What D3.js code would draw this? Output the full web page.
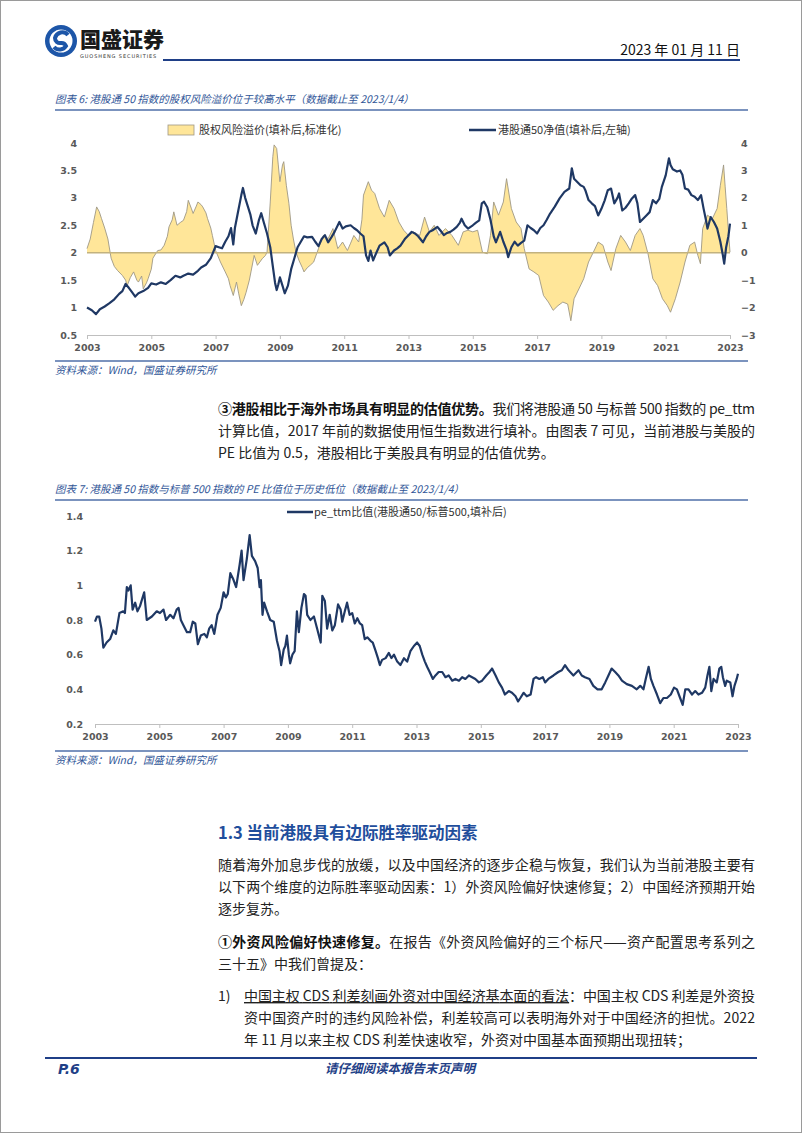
<!DOCTYPE html>
<html><head><meta charset="utf-8">
<script src="https://cdn.jsdelivr.net/npm/d3@7"></script>
<style>
html,body{margin:0;padding:0;background:#fff;}
svg{display:block;font-family:"Noto Sans CJK SC","Noto Sans",sans-serif;}
</style></head>
<body>
<svg id="page" width="802" height="1133"></svg>
<script>
// ---------- data ----------
const yearTicks = [2003,2005,2007,2009,2011,2013,2015,2017,2019,2021,2023];
const leftTicks1 = [0.5,1,1.5,2,2.5,3,3.5,4];
const rightTicks1 = [-3,-2,-1,0,1,2,3,4];
const leftTicks2 = [0.2,0.4,0.6,0.8,1,1.2,1.4];

const navYears = [2003.0,2003.15,2003.28,2003.4,2003.55,2003.7,2003.85,2004.0,2004.1,2004.2,2004.3,2004.4,2004.5,2004.6,2004.75,2004.9,2005.0,2005.15,2005.3,2005.45,2005.6,2005.75,2005.9,2006.0,2006.15,2006.3,2006.45,2006.55,2006.7,2006.85,2007.0,2007.1,2007.2,2007.3,2007.4,2007.48,2007.55,2007.6,2007.7,2007.8,2007.85,2007.92,2008.0,2008.08,2008.15,2008.25,2008.35,2008.42,2008.5,2008.6,2008.7,2008.78,2008.85,2008.9,2008.95,2009.0,2009.08,2009.15,2009.25,2009.35,2009.45,2009.55,2009.65,2009.75,2009.85,2010.0,2010.1,2010.2,2010.3,2010.4,2010.5,2010.6,2010.7,2010.85,2010.95,2011.05,2011.2,2011.3,2011.4,2011.5,2011.6,2011.68,2011.75,2011.82,2011.9,2012.0,2012.1,2012.25,2012.35,2012.42,2012.55,2012.65,2012.75,2012.9,2013.0,2013.1,2013.2,2013.3,2013.45,2013.55,2013.65,2013.75,2013.9,2014.0,2014.1,2014.2,2014.3,2014.4,2014.5,2014.6,2014.65,2014.75,2014.85,2015.0,2015.1,2015.2,2015.28,2015.35,2015.45,2015.55,2015.65,2015.72,2015.85,2015.95,2016.05,2016.1,2016.2,2016.3,2016.4,2016.5,2016.6,2016.7,2016.8,2016.9,2017.0,2017.1,2017.2,2017.3,2017.4,2017.55,2017.7,2017.85,2018.0,2018.08,2018.15,2018.25,2018.35,2018.45,2018.5,2018.6,2018.7,2018.8,2018.9,2019.0,2019.1,2019.2,2019.3,2019.4,2019.5,2019.55,2019.65,2019.75,2019.85,2019.95,2020.05,2020.12,2020.2,2020.3,2020.4,2020.5,2020.6,2020.7,2020.8,2020.88,2021.0,2021.1,2021.15,2021.22,2021.35,2021.45,2021.52,2021.6,2021.7,2021.8,2021.9,2022.0,2022.1,2022.18,2022.25,2022.3,2022.4,2022.5,2022.6,2022.7,2022.78,2022.82,2022.88,2022.95,2023.0];
const navValues = [1.0,0.95,0.88,0.97,1.02,1.08,1.15,1.25,1.3,1.43,1.36,1.28,1.2,1.26,1.3,1.36,1.44,1.42,1.46,1.43,1.5,1.58,1.55,1.58,1.62,1.6,1.67,1.73,1.78,1.9,2.12,2.1,2.08,2.2,2.3,2.45,2.15,2.45,2.75,3.05,3.18,3.0,2.85,2.7,2.5,2.35,2.6,2.72,2.55,2.35,2.1,1.75,1.45,1.32,1.42,1.55,1.4,1.26,1.4,1.7,1.9,2.1,2.2,2.3,2.28,2.29,2.2,2.12,2.25,2.32,2.19,2.28,2.38,2.56,2.44,2.48,2.5,2.45,2.41,2.35,2.3,1.95,1.85,2.04,1.86,2.0,2.13,2.19,2.1,1.95,2.04,2.08,2.13,2.26,2.32,2.38,2.35,2.3,2.19,2.3,2.38,2.41,2.47,2.4,2.32,2.36,2.38,2.42,2.47,2.55,2.62,2.5,2.44,2.5,2.55,2.59,2.9,2.93,2.83,2.6,2.3,2.19,2.38,2.2,2.05,1.92,2.1,2.2,2.13,2.18,2.22,2.5,2.45,2.41,2.35,2.45,2.5,2.6,2.71,2.84,2.99,3.11,3.17,3.54,3.35,3.29,3.23,3.2,3.14,2.96,2.9,2.85,2.68,2.8,2.95,3.14,3.17,2.9,3.0,3.08,2.77,2.82,2.9,2.99,3.05,2.9,2.56,2.62,2.68,2.74,2.96,2.9,2.98,3.2,3.41,3.72,3.6,3.52,3.48,3.5,3.42,3.17,3.15,3.05,3.02,2.96,3.05,2.8,2.6,2.44,2.65,2.56,2.44,2.2,1.95,1.8,2.1,2.3,2.53];

const erpYears = [2003.0,2003.1,2003.2,2003.3,2003.38,2003.45,2003.55,2003.65,2003.75,2003.85,2003.95,2004.1,2004.2,2004.25,2004.35,2004.45,2004.55,2004.6,2004.7,2004.75,2004.85,2004.9,2005.0,2005.05,2005.2,2005.3,2005.4,2005.5,2005.55,2005.65,2005.7,2005.8,2005.9,2006.0,2006.1,2006.15,2006.25,2006.3,2006.4,2006.45,2006.55,2006.6,2006.7,2006.75,2006.85,2006.9,2007.0,2007.1,2007.15,2007.3,2007.4,2007.45,2007.55,2007.65,2007.72,2007.8,2007.88,2007.95,2008.05,2008.1,2008.2,2008.3,2008.45,2008.55,2008.6,2008.7,2008.78,2008.82,2008.9,2008.95,2009.0,2009.08,2009.12,2009.2,2009.28,2009.35,2009.42,2009.5,2009.6,2009.7,2009.75,2009.85,2009.95,2010.05,2010.2,2010.35,2010.5,2010.65,2010.8,2010.95,2011.1,2011.2,2011.3,2011.45,2011.55,2011.6,2011.75,2011.85,2011.95,2012.1,2012.25,2012.4,2012.55,2012.7,2012.85,2013.0,2013.15,2013.35,2013.5,2013.65,2013.8,2013.95,2014.15,2014.35,2014.55,2014.7,2014.85,2015.0,2015.15,2015.3,2015.45,2015.55,2015.65,2015.8,2015.95,2016.05,2016.2,2016.35,2016.5,2016.6,2016.75,2016.9,2017.05,2017.2,2017.35,2017.5,2017.65,2017.8,2017.95,2018.05,2018.15,2018.3,2018.45,2018.6,2018.75,2018.9,2019.05,2019.2,2019.3,2019.45,2019.6,2019.75,2019.9,2020.05,2020.2,2020.3,2020.45,2020.6,2020.75,2020.9,2021.05,2021.15,2021.3,2021.45,2021.6,2021.75,2021.9,2022.0,2022.08,2022.15,2022.3,2022.45,2022.6,2022.7,2022.8,2022.85,2022.9,2022.95,2023.0];
const erpValues = [0.15,0.5,1.1,1.67,1.5,1.25,0.9,0.5,-0.2,-0.5,-0.65,-0.83,-1.0,-1.2,-0.9,-0.7,-1.0,-1.07,-0.85,-1.32,-1.1,-0.95,-0.6,-0.2,0.08,0.1,0.27,0.6,0.94,1.2,1.49,1.0,1.1,1.18,1.5,1.91,1.6,1.43,1.7,1.85,1.75,1.67,1.45,1.24,0.9,0.63,0.08,-0.2,-0.34,-0.7,-0.95,-1.2,-1.56,-1.07,-1.5,-1.93,-1.7,-1.44,-1.0,-0.7,-0.1,-0.46,-0.22,-0.1,0.02,1.85,3.5,3.93,3.8,3.2,2.59,3.2,3.32,2.46,1.8,1.0,0.5,0.02,-0.3,-0.55,-0.7,-0.55,-0.45,-0.34,0.15,0.63,0.51,0.88,0.15,0.39,0.08,0.35,0.63,0.39,1.2,2.1,2.59,2.28,2.16,1.61,1.3,1.91,1.61,1.12,0.82,0.63,0.76,0.63,1.3,0.76,1.0,0.63,0.88,0.63,0.27,0.76,0.82,0.76,0.82,0.02,-0.04,0.63,1.85,1.37,1.85,2.7,1.61,1.12,0.88,0.15,-0.59,-0.7,-0.83,-1.56,-1.8,-2.1,-1.93,-1.8,-1.87,-2.48,-1.68,-1.32,-0.95,-0.34,0.02,0.39,0.27,-0.34,-0.65,0.15,0.63,0.39,0.08,0.63,0.88,0.63,-0.04,-0.95,-1.2,-1.68,-1.93,-2.17,-1.68,-1.07,-0.34,0.27,0.39,-0.1,-0.4,0.88,1.37,1.24,1.61,2.46,3.2,2.4,1.61,0.8,0.02];

const peYears = [2003.0,2003.06,2003.13,2003.2,2003.26,2003.36,2003.47,2003.57,2003.65,2003.76,2003.88,2003.93,2003.99,2004.04,2004.11,2004.17,2004.25,2004.32,2004.4,2004.53,2004.61,2004.77,2004.92,2005.02,2005.13,2005.21,2005.34,2005.44,2005.54,2005.6,2005.67,2005.75,2005.86,2005.96,2006.04,2006.12,2006.2,2006.29,2006.4,2006.48,2006.55,2006.63,2006.71,2006.81,2006.91,2007.0,2007.07,2007.13,2007.21,2007.29,2007.39,2007.5,2007.56,2007.62,2007.72,2007.81,2007.88,2007.98,2008.06,2008.12,2008.16,2008.21,2008.26,2008.35,2008.45,2008.56,2008.66,2008.74,2008.79,2008.87,2008.92,2008.97,2009.03,2009.07,2009.14,2009.21,2009.28,2009.34,2009.42,2009.5,2009.55,2009.6,2009.7,2009.81,2009.91,2010.02,2010.07,2010.15,2010.22,2010.3,2010.38,2010.46,2010.56,2010.64,2010.69,2010.77,2010.84,2010.92,2011.0,2011.08,2011.16,2011.24,2011.31,2011.39,2011.47,2011.57,2011.64,2011.73,2011.8,2011.86,2011.93,2012.04,2012.14,2012.22,2012.3,2012.4,2012.5,2012.61,2012.71,2012.81,2012.92,2013.02,2013.1,2013.18,2013.26,2013.33,2013.41,2013.51,2013.59,2013.69,2013.8,2013.9,2014.0,2014.11,2014.21,2014.32,2014.42,2014.52,2014.63,2014.73,2014.83,2014.94,2015.04,2015.17,2015.27,2015.35,2015.46,2015.56,2015.66,2015.75,2015.87,2015.97,2016.08,2016.16,2016.23,2016.33,2016.43,2016.55,2016.64,2016.72,2016.82,2016.93,2017.0,2017.1,2017.26,2017.41,2017.52,2017.62,2017.73,2017.88,2018.04,2018.14,2018.24,2018.38,2018.5,2018.63,2018.76,2018.87,2018.97,2019.07,2019.18,2019.28,2019.39,2019.54,2019.7,2019.85,2019.96,2020.06,2020.13,2020.22,2020.29,2020.37,2020.48,2020.58,2020.68,2020.79,2020.91,2021.01,2021.1,2021.2,2021.28,2021.36,2021.46,2021.57,2021.67,2021.77,2021.88,2021.98,2022.05,2022.11,2022.17,2022.24,2022.34,2022.42,2022.48,2022.53,2022.6,2022.65,2022.76,2022.83,2022.89,2022.96,2023.0];
const peValues = [0.79,0.82,0.82,0.75,0.64,0.67,0.69,0.74,0.72,0.84,0.85,0.84,0.99,0.97,1.0,0.86,0.9,0.85,0.88,0.96,0.8,0.82,0.85,0.84,0.86,0.8,0.83,0.81,0.86,0.87,0.8,0.77,0.73,0.73,0.79,0.78,0.66,0.71,0.72,0.7,0.75,0.77,0.72,0.83,0.87,0.96,0.93,0.95,1.07,1.04,0.99,1.12,1.2,1.03,1.15,1.29,1.17,1.14,1.1,0.99,1.03,0.83,0.9,0.85,0.8,0.79,0.68,0.62,0.54,0.63,0.65,0.71,0.6,0.55,0.6,0.62,0.85,0.73,0.87,0.95,0.94,0.83,0.8,0.82,0.75,0.67,0.94,0.91,0.75,0.83,0.74,0.77,0.89,0.86,0.79,0.85,0.9,0.83,0.84,0.78,0.81,0.78,0.77,0.69,0.7,0.68,0.67,0.62,0.58,0.54,0.57,0.58,0.61,0.58,0.6,0.56,0.54,0.58,0.56,0.62,0.65,0.67,0.65,0.6,0.56,0.53,0.5,0.46,0.48,0.5,0.5,0.47,0.48,0.45,0.46,0.45,0.47,0.46,0.48,0.47,0.46,0.44,0.45,0.48,0.5,0.52,0.48,0.44,0.41,0.37,0.39,0.38,0.36,0.33,0.35,0.38,0.36,0.37,0.46,0.47,0.46,0.47,0.44,0.46,0.48,0.5,0.51,0.54,0.51,0.48,0.51,0.48,0.47,0.46,0.42,0.4,0.4,0.44,0.48,0.52,0.5,0.48,0.45,0.43,0.42,0.4,0.42,0.4,0.46,0.53,0.46,0.42,0.37,0.32,0.35,0.35,0.37,0.41,0.4,0.35,0.31,0.4,0.4,0.37,0.39,0.37,0.38,0.41,0.48,0.53,0.39,0.46,0.44,0.52,0.53,0.47,0.42,0.45,0.44,0.36,0.42,0.46,0.49];

// ---------- page ----------
const svg = d3.select("#page");
const BLUE = "#1f3f87", TBLUE = "#2f5597", NAVY = "#1f3864";

svg.append("rect").attr("x",0.5).attr("y",0.5).attr("width",801).attr("height",1132)
  .attr("fill","#fff").attr("stroke","#9a9a9a");

// header logo
const logo = svg.append("g").attr("transform","translate(61,41)");
logo.append("circle").attr("r",16).attr("fill","#1d56a8");
logo.append("circle").attr("r",11.5).attr("fill","#fff");
logo.append("path").attr("d","M7,-6 A7.5,7.5 0 0 0 -6,-3 A5,5 0 0 0 0,2 A5,5 0 0 1 5,5 A7.5,7.5 0 0 1 -7,6")
  .attr("fill","none").attr("stroke","#1d56a8").attr("stroke-width",4);
svg.append("text").attr("x",80).attr("y",47).attr("font-size",21).attr("font-weight",900)
  .attr("fill","#1a1a1a").text("国盛证券");
svg.append("text").attr("x",80).attr("y",57.5).attr("font-size",5).attr("letter-spacing",0.9)
  .attr("fill","#333").attr("font-family","DejaVu Sans").text("GUOSHENG SECURITIES");
svg.append("text").attr("x",740).attr("y",55).attr("text-anchor","end").attr("font-size",14)
  .attr("fill","#111").text("2023 年 01 月 11 日");
svg.append("line").attr("x1",163).attr("x2",740).attr("y1",60).attr("y2",60)
  .attr("stroke",BLUE).attr("stroke-width",2);

function caption(y, txt){
  svg.append("text").attr("x",55).attr("y",y).attr("font-size",10.5).attr("font-style","italic")
    .attr("fill",TBLUE).text(txt);
}
function rule(y){
  svg.append("line").attr("x1",55).attr("x2",748).attr("y1",y).attr("y2",y)
    .attr("stroke","#4f6fa8").attr("stroke-width",1.6);
}

// ---------- chart 1 ----------
caption(103,"图表 6:  港股通 50 指数的股权风险溢价位于较高水平（数据截止至 2023/1/4）");
rule(110);
const x1 = d3.scaleLinear().domain([2003,2023]).range([87,730]);
const yL = d3.scaleLinear().domain([0.5,4]).range([335,143]);
const yR = d3.scaleLinear().domain([-3,4]).range([335,143]);
const c1 = svg.append("g");

const erpData = erpYears.map((t,i)=>({t, v:erpValues[i]}));
const navData = navYears.map((t,i)=>({t, v:navValues[i]}));
c1.append("path").datum(erpData)
  .attr("d", d3.area().x(d=>x1(d.t)).y0(yR(0)).y1(d=>yR(d.v)))
  .attr("fill","#ffe699");
c1.append("path").datum(erpData)
  .attr("d", d3.line().x(d=>x1(d.t)).y(d=>yR(d.v)))
  .attr("fill","none").attr("stroke","#9e9784").attr("stroke-width",0.9);
c1.append("line").attr("x1",x1(2003)).attr("x2",x1(2023)).attr("y1",yR(0)).attr("y2",yR(0))
  .attr("stroke","#c2b27f").attr("stroke-width",1.5);
c1.append("path").datum(navData)
  .attr("d", d3.line().x(d=>x1(d.t)).y(d=>yL(d.v)))
  .attr("fill","none").attr("stroke",NAVY).attr("stroke-width",2.2).attr("stroke-linejoin","round");

function styleAxis(g){
  g.selectAll("text").attr("font-family","DejaVu Sans").attr("font-weight","bold")
   .attr("font-size",9.5).attr("fill","#595959");
  g.selectAll("line").attr("stroke","#bfbfbf");
  g.select(".domain").attr("stroke","#bfbfbf");
}
c1.append("g").attr("transform","translate(0,335)")
  .call(d3.axisBottom(x1).tickValues(yearTicks).tickFormat(d3.format("d")).tickSize(4).tickSizeOuter(0))
  .call(styleAxis).call(g=>g.selectAll("text").attr("dy","0.9em"));
c1.append("g").attr("transform","translate(80,0)")
  .call(d3.axisLeft(yL).tickValues(leftTicks1).tickFormat(d3.format("")).tickSize(0))
  .call(styleAxis).call(g=>g.select(".domain").remove());
c1.append("g").attr("transform","translate(738,0)")
  .call(d3.axisRight(yR).tickValues(rightTicks1).tickFormat(d3.format("")).tickSize(0))
  .call(styleAxis).call(g=>g.select(".domain").remove());

// legend 1
svg.append("rect").attr("x",168).attr("y",125).attr("width",26).attr("height",10)
  .attr("fill","#ffe699").attr("stroke","#9e9784").attr("stroke-width",0.8);
svg.append("text").attr("x",199).attr("y",134).attr("font-size",11).attr("fill","#333")
  .text("股权风险溢价(填补后,标准化)");
svg.append("line").attr("x1",469).attr("x2",496).attr("y1",130).attr("y2",130)
  .attr("stroke",NAVY).attr("stroke-width",2.5);
svg.append("text").attr("x",498).attr("y",134).attr("font-size",11).attr("fill","#333")
  .text("港股通50净值(填补后,左轴)");

rule(361);
caption(374,"资料来源：Wind，国盛证券研究所");

// ---------- paragraph ----------
function para(x, y, parts, width){
  const t = svg.append("text").attr("x",x).attr("y",y).attr("font-size",14).attr("fill","#222");
  parts.forEach(p=>{
    const s = t.append("tspan").text(p.t);
    if(p.b) s.attr("font-weight","bold").attr("fill","#111");
    if(p.u) s.attr("text-decoration","underline");
  });
  if(width) t.attr("textLength",width).attr("lengthAdjust","spacing");
  return t;
}
para(218,414,[{t:"③港股相比于海外市场具有明显的估值优势。",b:true},{t:"我们将港股通 50 与标普 500 指数的 pe_ttm"}],537);
para(218,436,[{t:"计算比值，2017 年前的数据使用恒生指数进行填补。由图表 7 可见，当前港股与美股的"}],537);
para(218,458,[{t:"PE 比值为 0.5，港股相比于美股具有明显的估值优势。"}]);

// ---------- chart 2 ----------
caption(493,"图表 7:  港股通 50 指数与标普 500 指数的 PE 比值位于历史低位（数据截止至 2023/1/4）");
rule(500);
const x2 = d3.scaleLinear().domain([2003,2023]).range([95,738]);
const y2 = d3.scaleLinear().domain([0.2,1.4]).range([724,516]);
const c2 = svg.append("g");
const peData = peYears.map((t,i)=>({t, v:peValues[i]}));
c2.append("path").datum(peData)
  .attr("d", d3.line().x(d=>x2(d.t)).y(d=>y2(d.v)))
  .attr("fill","none").attr("stroke",NAVY).attr("stroke-width",2.2).attr("stroke-linejoin","round");
c2.append("g").attr("transform","translate(0,724)")
  .call(d3.axisBottom(x2).tickValues(yearTicks).tickFormat(d3.format("d")).tickSize(4).tickSizeOuter(0))
  .call(styleAxis).call(g=>g.selectAll("text").attr("dy","0.9em"));
c2.append("g").attr("transform","translate(86,0)")
  .call(d3.axisLeft(y2).tickValues(leftTicks2).tickFormat(d3.format("")).tickSize(0))
  .call(styleAxis).call(g=>g.select(".domain").remove());
svg.append("line").attr("x1",287).attr("x2",313).attr("y1",512).attr("y2",512)
  .attr("stroke",NAVY).attr("stroke-width",2.5);
svg.append("text").attr("x",314).attr("y",516).attr("font-size",11).attr("fill","#333")
  .text("pe_ttm比值(港股通50/标普500,填补后)");
rule(751);
caption(764,"资料来源：Wind，国盛证券研究所");

// ---------- section text ----------
svg.append("text").attr("x",218).attr("y",839).attr("font-size",16.5).attr("font-weight","bold")
  .attr("fill","#1f4e9c").text("1.3 当前港股具有边际胜率驱动因素");
para(218,870,[{t:"随着海外加息步伐的放缓，以及中国经济的逐步企稳与恢复，我们认为当前港股主要有"}],537);
para(218,892,[{t:"以下两个维度的边际胜率驱动因素：1）外资风险偏好快速修复；2）中国经济预期开始"}],537);
para(218,914,[{t:"逐步复苏。"}]);
para(218,947,[{t:"①外资风险偏好快速修复。",b:true},{t:"在报告《外资风险偏好的三个标尺——资产配置思考系列之"}],537);
para(218,969,[{t:"三十五》中我们曾提及："}]);
para(218,1001,[{t:"1)"}]);
para(244,1001,[{t:"中国主权 CDS 利差刻画外资对中国经济基本面的看法",u:true},{t:"：中国主权 CDS 利差是外资投"}],511);
para(244,1023,[{t:"资中国资产时的违约风险补偿，利差较高可以表明海外对于中国经济的担忧。2022"}],511);
para(244,1045,[{t:"年 11 月以来主权 CDS 利差快速收窄，外资对中国基本面预期出现扭转；"}]);

// ---------- footer ----------
svg.append("line").attr("x1",45).attr("x2",757).attr("y1",1058).attr("y2",1058)
  .attr("stroke",BLUE).attr("stroke-width",2);
svg.append("text").attr("x",58).attr("y",1074).attr("font-size",14).attr("font-weight","bold")
  .attr("font-style","italic").attr("fill",BLUE).attr("font-family","DejaVu Sans").text("P.6");
svg.append("text").attr("x",400).attr("y",1073).attr("text-anchor","middle").attr("font-size",12.5)
  .attr("font-weight","bold").attr("font-style","italic").attr("fill",BLUE).text("请仔细阅读本报告末页声明");
</script>
</body></html>
